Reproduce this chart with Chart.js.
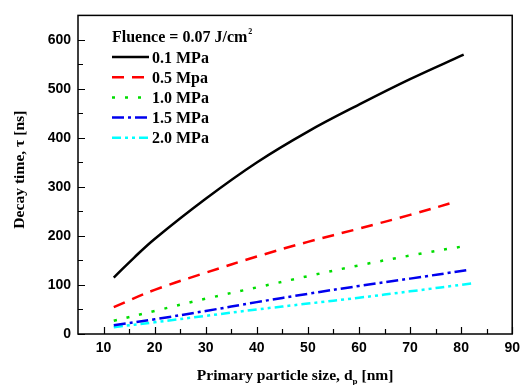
<!DOCTYPE html>
<html>
<head>
<meta charset="utf-8">
<script src="https://cdn.jsdelivr.net/npm/chart.js@4"></script>
<style>
  html, body { margin: 0; padding: 0; background: #fff; }
  #wrap { width: 526px; height: 385px; }
</style>
</head>
<body>
<div id="wrap"><canvas id="decay"></canvas></div>
<script>
// values
const legendTitle = 'Fluence = 0.07 J/cm';
const seriesLabels = ['0.1 MPa', '0.5 Mpa', '1.0 MPa', '1.5 MPa', '2.0 MPa'];
const xTicks = [10, 20, 30, 40, 50, 60, 70, 80, 90];
const yTicks = [0, 100, 200, 300, 400, 500, 600];

const x01 = [12, 16, 20, 30, 40, 50, 60, 70, 80.5];
const y01 = [115, 156, 194, 276, 350, 413, 468, 520, 570];
const x05 = [12, 20, 30, 40, 50, 60, 70, 79];
const y05 = [55, 90, 125, 158, 188, 215, 243, 270];
const x10 = [12, 20, 30, 40, 50, 60, 70, 81];
const y10 = [27, 47, 72, 95, 118, 140, 160, 180];
const x15 = [12, 20, 30, 40, 50, 60, 70, 81];
const y15 = [18, 30, 47, 65, 82, 98, 113, 130];
const x20 = [12, 20, 30, 40, 50, 60, 70, 82];
const y20 = [14, 24, 37, 50, 62, 74, 87, 103];

const colors = ['#000000', '#ff0000', '#00dd00', '#0000ee', '#00ffff'];
const dashes = [[], [12, 8], [3, 10], [12, 4, 3, 4], [9, 4, 3, 4, 3, 4]];

function pts(xs, ys) {
  return xs.map((x, i) => ({ x: x, y: ys[i] }));
}

const seriesData = [pts(x01, y01), pts(x05, y05), pts(x10, y10), pts(x15, y15), pts(x20, y20)];

const datasets = seriesData.map((d, i) => ({
  label: seriesLabels[i],
  data: d,
  borderColor: colors[i],
  backgroundColor: colors[i],
  borderWidth: 2.5,
  borderDash: dashes[i],
  pointRadius: 0,
  tension: 0.4,
  fill: false
}));

const serif = '"Liberation Serif", "Times New Roman", serif';
const sans = '"Liberation Sans", Arial, sans-serif';

// frame, inward ticks, axis titles and the legend block
const decorations = {
  id: 'decorations',
  afterDraw(chart) {
    const ctx = chart.ctx;
    const a = chart.chartArea;
    const xs = chart.scales.x, ys = chart.scales.y;
    ctx.save();
    ctx.strokeStyle = '#000';
    ctx.lineWidth = 1.5;
    ctx.strokeRect(a.left, a.top, a.right - a.left, a.bottom - a.top);

    ctx.lineWidth = 1.2;
    ctx.beginPath();
    for (let v = 10; v <= 90; v += 5) {
      const px = Math.round(xs.getPixelForValue(v)) + 0.5;
      const len = v % 10 === 0 ? 7 : 5;
      ctx.moveTo(px, a.bottom);
      ctx.lineTo(px, a.bottom - len);
    }
    for (let v = 0; v <= 600; v += 50) {
      const py = Math.round(ys.getPixelForValue(v)) + 0.5;
      const len = v % 100 === 0 ? 7 : 5;
      ctx.moveTo(a.left, py);
      ctx.lineTo(a.left + len, py);
    }
    ctx.stroke();

    // x title with subscript
    ctx.fillStyle = '#000';
    ctx.textBaseline = 'alphabetic';
    const big = 'bold 15.6px ' + serif, small = 'bold 9px ' + serif;
    const p1 = 'Primary particle size, d', p2 = 'p', p3 = ' [nm]';
    ctx.font = big; const w1 = ctx.measureText(p1).width, w3 = ctx.measureText(p3).width;
    ctx.font = small; const w2 = ctx.measureText(p2).width;
    let sx = (a.left + a.right) / 2 - (w1 + w2 + w3) / 2;
    const by = 380;
    ctx.font = big; ctx.textAlign = 'left'; ctx.fillText(p1, sx, by);
    ctx.font = small; ctx.fillText(p2, sx + w1, by + 4);
    ctx.font = big; ctx.fillText(p3, sx + w1 + w2, by);

    // y title rotated
    ctx.save();
    ctx.translate(24, (a.top + a.bottom) / 2 - 5);
    ctx.rotate(-Math.PI / 2);
    ctx.textAlign = 'center';
    ctx.font = big;
    ctx.fillText('Decay time, \u03c4 [ns]', 0, 0);
    ctx.restore();

    // legend
    const lf = 'bold 16px ' + serif;
    ctx.font = lf;
    ctx.textAlign = 'left';
    ctx.fillText(legendTitle, 112, 42);
    const tw = ctx.measureText(legendTitle).width;
    ctx.font = 'bold 8px ' + serif;
    ctx.fillText('2', 112 + tw + 1, 34);

    chart.data.datasets.forEach((ds, i) => {
      const yy = 57 + i * 20.2;
      ctx.strokeStyle = ds.borderColor;
      ctx.lineWidth = 2.5;
      ctx.setLineDash(ds.borderDash);
      ctx.beginPath();
      ctx.moveTo(112, yy);
      ctx.lineTo(149, yy);
      ctx.stroke();
      ctx.setLineDash([]);
      ctx.font = lf;
      ctx.fillStyle = '#000';
      ctx.fillText(ds.label, 152, yy + 5.5);
    });
    ctx.restore();
  }
};

new Chart(document.getElementById('decay'), {
  type: 'line',
  data: { datasets: datasets },
  plugins: [decorations],
  options: {
    responsive: true,
    maintainAspectRatio: false,
    animation: false,
    layout: { padding: { top: 11, right: 13, left: 0, bottom: 0 } },
    plugins: { legend: { display: false }, tooltip: { enabled: false } },
    scales: {
      x: {
        type: 'linear',
        min: 5, max: 90,
        afterBuildTicks: s => { s.ticks = xTicks.map(v => ({ value: v })); },
        afterFit: s => { s.height = 51; },
        grid: { display: false, drawTicks: false },
        border: { display: false },
        ticks: { padding: 6, color: '#000', font: { family: sans, weight: 'bold', size: 14 } }
      },
      y: {
        min: 0, max: 650,
        afterBuildTicks: s => { s.ticks = yTicks.map(v => ({ value: v })); },
        afterFit: s => { s.width = 78; },
        grid: { display: false, drawTicks: false },
        border: { display: false },
        ticks: { padding: 7, color: '#000', font: { family: sans, weight: 'bold', size: 14 } }
      }
    }
  }
});
</script>
</body>
</html>
